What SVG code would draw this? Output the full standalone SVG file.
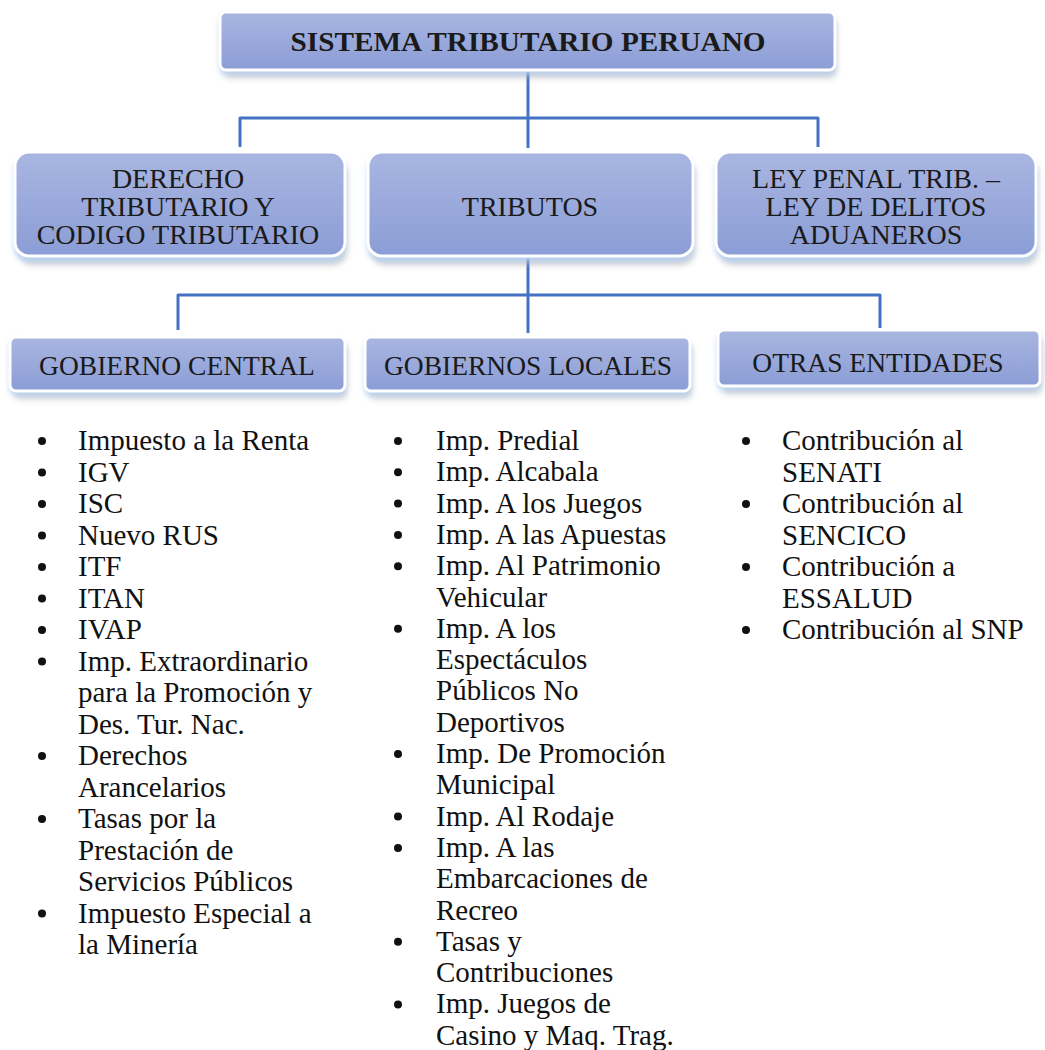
<svg xmlns="http://www.w3.org/2000/svg" width="1045" height="1050" viewBox="0 0 1045 1050">
<defs>
<linearGradient id="boxGrad" x1="0" y1="0" x2="0" y2="1">
<stop offset="0" stop-color="#a9b6e1"/>
<stop offset="1" stop-color="#8b9dd6"/>
</linearGradient>
<filter id="glow" x="-10%" y="-20%" width="120%" height="150%">
<feGaussianBlur stdDeviation="3"/>
</filter>
</defs>
<style>
.box{fill:url(#boxGrad);stroke:#ffffff;stroke-width:3}
.under{fill:#b3d0f6;filter:url(#glow)}
.shade{fill:#9a9a9a;opacity:0.45;filter:url(#glow)}
.conn{fill:none;stroke:#4472c4;stroke-width:3;stroke-linejoin:round}
.t{font-family:"Liberation Serif","Times New Roman",serif;fill:#1a1a1a;text-anchor:middle}
.title{font-size:28px;font-weight:bold}
.lbl{font-size:28px}
.lbl3{font-size:27.5px}
.li{font-family:"Liberation Serif","Times New Roman",serif;font-size:29px;fill:#111}
.dot{fill:#111}
</style>
<rect width="1045" height="1050" fill="#ffffff"/>

<g id="connectors">
<path class="conn" d="M528,70 V118 M240,147 V118 H818 V147 M528,118 V148"/>
<path class="conn" d="M528,258 V295 M178,330 V295 H880 V328 M528,295 V333"/>
</g>

<g id="n-sistema">
<rect class="shade" x="224" y="20" width="612" height="58" rx="6"/>
<rect class="under" x="220" y="16" width="615" height="58" rx="6"/>
<rect class="box" x="220" y="12" width="615" height="58" rx="6"/>
<text class="t title" x="528" y="51" textLength="475" lengthAdjust="spacingAndGlyphs">SISTEMA TRIBUTARIO PERUANO</text>
</g>

<g id="n-derecho">
<rect class="shade" x="19" y="161" width="328" height="104" rx="14"/>
<rect class="under" x="15" y="157" width="330" height="104" rx="14"/>
<rect class="box" x="15" y="152" width="330" height="104" rx="14"/>
<text class="t lbl" x="178" y="188">DERECHO</text>
<text class="t lbl" x="178" y="216">TRIBUTARIO Y</text>
<text class="t lbl" x="178" y="244">CODIGO TRIBUTARIO</text>
</g>

<g id="n-tributos">
<rect class="shade" x="372" y="161" width="323" height="104" rx="14"/>
<rect class="under" x="368" y="157" width="325" height="104" rx="14"/>
<rect class="box" x="368" y="152" width="325" height="104" rx="14"/>
<text class="t lbl" x="530" y="216">TRIBUTOS</text>
</g>

<g id="n-ley">
<rect class="shade" x="720" y="161" width="318" height="104" rx="14"/>
<rect class="under" x="716" y="157" width="320" height="104" rx="14"/>
<rect class="box" x="716" y="152" width="320" height="104" rx="14"/>
<text class="t lbl" x="876" y="188">LEY PENAL TRIB. –</text>
<text class="t lbl" x="876" y="216">LEY DE DELITOS</text>
<text class="t lbl" x="876" y="244">ADUANEROS</text>
</g>

<g id="n-central">
<rect class="shade" x="14" y="345" width="333" height="54" rx="6"/>
<rect class="under" x="10" y="341" width="335" height="54" rx="6"/>
<rect class="box" x="10" y="337" width="335" height="54" rx="6"/>
<text class="t lbl3" x="177" y="375">GOBIERNO CENTRAL</text>
</g>

<g id="n-locales">
<rect class="shade" x="369" y="345" width="323" height="54" rx="6"/>
<rect class="under" x="365" y="341" width="325" height="54" rx="6"/>
<rect class="box" x="365" y="337" width="325" height="54" rx="6"/>
<text class="t lbl3" x="528" y="375">GOBIERNOS LOCALES</text>
</g>

<g id="n-otras">
<rect class="shade" x="722" y="338" width="320" height="56" rx="6"/>
<rect class="under" x="718" y="334" width="322" height="56" rx="6"/>
<rect class="box" x="718" y="330" width="322" height="56" rx="6"/>
<text class="t lbl3" x="878" y="372">OTRAS ENTIDADES</text>
</g>

<g id="list-central">
<circle class="dot" cx="42" cy="441" r="4"/>
<circle class="dot" cx="42" cy="472.5" r="4"/>
<circle class="dot" cx="42" cy="504" r="4"/>
<circle class="dot" cx="42" cy="535.5" r="4"/>
<circle class="dot" cx="42" cy="567" r="4"/>
<circle class="dot" cx="42" cy="598.5" r="4"/>
<circle class="dot" cx="42" cy="630" r="4"/>
<circle class="dot" cx="42" cy="661.5" r="4"/>
<circle class="dot" cx="42" cy="756" r="4"/>
<circle class="dot" cx="42" cy="819" r="4"/>
<circle class="dot" cx="42" cy="913.5" r="4"/>
<text class="li" x="78" y="450">Impuesto a la Renta</text>
<text class="li" x="78" y="481.5">IGV</text>
<text class="li" x="78" y="513">ISC</text>
<text class="li" x="78" y="544.5">Nuevo RUS</text>
<text class="li" x="78" y="576">ITF</text>
<text class="li" x="78" y="607.5">ITAN</text>
<text class="li" x="78" y="639">IVAP</text>
<text class="li" x="78" y="670.5">Imp. Extraordinario</text>
<text class="li" x="78" y="702">para la Promoción y</text>
<text class="li" x="78" y="733.5">Des. Tur. Nac.</text>
<text class="li" x="78" y="765">Derechos</text>
<text class="li" x="78" y="796.5">Arancelarios</text>
<text class="li" x="78" y="828">Tasas por la</text>
<text class="li" x="78" y="859.5">Prestación de</text>
<text class="li" x="78" y="891">Servicios Públicos</text>
<text class="li" x="78" y="922.5">Impuesto Especial a</text>
<text class="li" x="78" y="954">la Minería</text>
</g>

<g id="list-locales">
<circle class="dot" cx="398" cy="441" r="4"/>
<circle class="dot" cx="398" cy="472.3" r="4"/>
<circle class="dot" cx="398" cy="503.6" r="4"/>
<circle class="dot" cx="398" cy="534.9" r="4"/>
<circle class="dot" cx="398" cy="566.2" r="4"/>
<circle class="dot" cx="398" cy="628.8" r="4"/>
<circle class="dot" cx="398" cy="754" r="4"/>
<circle class="dot" cx="398" cy="816.6" r="4"/>
<circle class="dot" cx="398" cy="847.9" r="4"/>
<circle class="dot" cx="398" cy="941.8" r="4"/>
<circle class="dot" cx="398" cy="1004.4" r="4"/>
<text class="li" x="436" y="450">Imp. Predial</text>
<text class="li" x="436" y="481.3">Imp. Alcabala</text>
<text class="li" x="436" y="512.6">Imp. A los Juegos</text>
<text class="li" x="436" y="543.9">Imp. A las Apuestas</text>
<text class="li" x="436" y="575.2">Imp. Al Patrimonio</text>
<text class="li" x="436" y="606.5">Vehicular</text>
<text class="li" x="436" y="637.8">Imp. A los</text>
<text class="li" x="436" y="669.1">Espectáculos</text>
<text class="li" x="436" y="700.4">Públicos No</text>
<text class="li" x="436" y="731.7">Deportivos</text>
<text class="li" x="436" y="763">Imp. De Promoción</text>
<text class="li" x="436" y="794.3">Municipal</text>
<text class="li" x="436" y="825.6">Imp. Al Rodaje</text>
<text class="li" x="436" y="856.9">Imp. A las</text>
<text class="li" x="436" y="888.2">Embarcaciones de</text>
<text class="li" x="436" y="919.5">Recreo</text>
<text class="li" x="436" y="950.8">Tasas y</text>
<text class="li" x="436" y="982.1">Contribuciones</text>
<text class="li" x="436" y="1013.4">Imp. Juegos de</text>
<text class="li" x="436" y="1044.7">Casino y Maq. Trag.</text>
</g>

<g id="list-otras">
<circle class="dot" cx="746" cy="441" r="4"/>
<circle class="dot" cx="746" cy="504" r="4"/>
<circle class="dot" cx="746" cy="567" r="4"/>
<circle class="dot" cx="746" cy="630" r="4"/>
<text class="li" x="782" y="450">Contribución al</text>
<text class="li" x="782" y="481.5">SENATI</text>
<text class="li" x="782" y="513">Contribución al</text>
<text class="li" x="782" y="544.5">SENCICO</text>
<text class="li" x="782" y="576">Contribución a</text>
<text class="li" x="782" y="607.5">ESSALUD</text>
<text class="li" x="782" y="639">Contribución al SNP</text>
</g>
</svg>
